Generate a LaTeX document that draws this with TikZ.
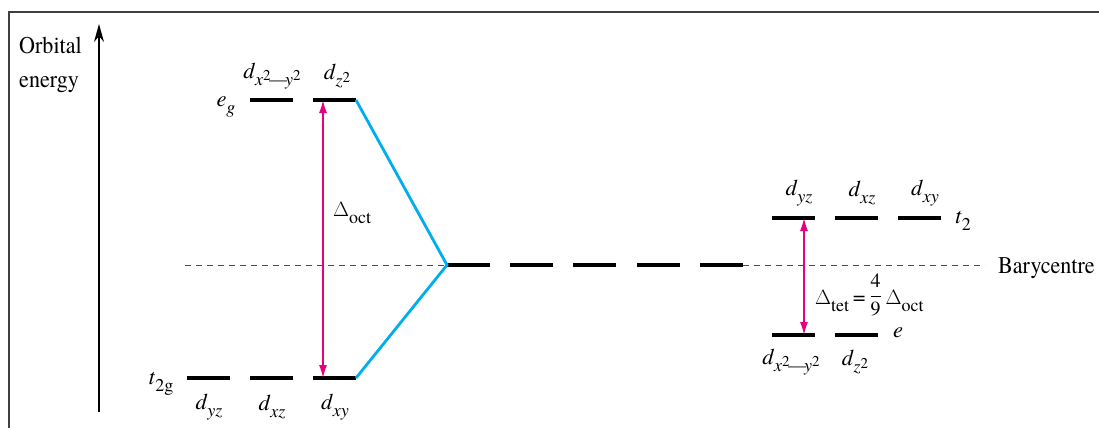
\documentclass[tikz,border=0pt]{standalone}
\usepackage{fontspec}
\setmainfont{texgyretermes}[Extension=.otf, UprightFont=*-regular, ItalicFont=*-italic, BoldFont=*-bold, BoldItalicFont=*-bolditalic]
\newfontfamily\narrowfont{texgyretermes}[Extension=.otf, UprightFont=*-regular, FakeStretch=0.92]
\usetikzlibrary{arrows.meta}
% orbital labels: italic d with a lowered italic subscript
\newcommand{\subsz}{\fontsize{18}{18}\selectfont}
\newcommand{\orb}[1]{\textit{d}\raisebox{-0.75ex}{\subsz\textit{#1}}}
\newcommand{\supx}{\raisebox{0.55ex}{\fontsize{15}{15}\selectfont 2}}
\newcommand{\orbxy}{\textit{d}\raisebox{-0.7ex}{\subsz\textit{x}\supx\kern-1.5pt\textemdash\kern-2pt\textit{y}\supx}}
\newcommand{\orbz}{\textit{d}\raisebox{-0.7ex}{\subsz\textit{z}\supx}}
\newcommand{\gsub}[2]{#1\raisebox{-0.7ex}{\subsz #2}}
\newcommand{\fourninths}{\raisebox{0.3ex}{\fontsize{20}{20}\selectfont$\displaystyle\frac{\mbox{4}}{\mbox{9}}$}}
\definecolor{splitpink}{HTML}{E6007E}
\definecolor{corrblue}{HTML}{00AEEF}
\begin{document}
\begin{tikzpicture}[x=1pt,y=-1pt,
  txt/.style={font=\fontsize{22.5}{26}\selectfont, inner sep=0pt},
  bigtxt/.style={font=\narrowfont\fontsize{24}{34}\selectfont, inner sep=0pt},
  level/.style={line width=4.5pt},
  corr/.style={corrblue, line width=2.8pt},
  gap/.style={splitpink, line width=1.4pt, {Latex[length=13pt,width=8pt]}-{Latex[length=13pt,width=8pt]}},
  bary/.style={black!70, line width=1pt, dash pattern=on 6pt off 5pt},
  frame/.style={black!75, line width=1.4pt}]
\useasboundingbox (0,0) rectangle (1099,428);

% frame
\draw[frame] (9,428) -- (9,12) -- (1099,12);

% energy axis
\coordinate (axb) at (99,412);
\coordinate (axt) at (99,24);
\draw[line width=1.3pt, -{Stealth[length=18pt,width=10pt]}] (axb) -- (axt);
\node[bigtxt, anchor=base west] (axlbl1) at (19,53) {Orbital};
\node[bigtxt, anchor=base west] (axlbl2) at (19,87) {energy};

% degenerate levels of the free ion
\foreach \i/\x in {1/447,2/510,3/573,4/637,5/700}{
  \coordinate (f\i w) at (\x,265);
  \coordinate (f\i e) at (\x+43,265);
  \draw[level] (f\i w) -- (f\i e);
}

% barycentre, dashed on either side of the free-ion levels
\coordinate (bl) at (185,265);
\coordinate (br) at (985,265);
\draw[bary] (bl) -- (f1w);
\draw[bary] (f5e) -- (br);
\node[bigtxt, anchor=base west] (barylbl) at (998,273) {Barycentre};

% octahedral field: e_g
\coordinate (eg1w) at (250,100); \coordinate (eg1e) at (293,100);
\coordinate (eg2w) at (313,100); \coordinate (eg2e) at (356,100);
\draw[level] (eg1w) -- (eg1e);
\draw[level] (eg2w) -- (eg2e);
\node[txt] (eglbl) at (226,107) {\gsub{\textit{e}}{\textit{g}}};
\node[txt] (egA) at (272,76) {\orbxy};
\node[txt] (egB) at (337,76) {\orbz};

% octahedral field: t_2g
\coordinate (t1w) at (187,378); \coordinate (t1e) at (230,378);
\coordinate (t2w) at (250,378); \coordinate (t2e) at (293,378);
\coordinate (t3w) at (313,378); \coordinate (t3e) at (356,378);
\draw[level] (t1w) -- (t1e);
\draw[level] (t2w) -- (t2e);
\draw[level] (t3w) -- (t3e);
\node[txt] (t2glbl) at (161,384) {\gsub{\textit{t}}{2g}};
\node[txt] (tA) at (209,407) {\orb{yz}};
\node[txt] (tB) at (272,407) {\orb{xz}};
\node[txt] (tC) at (335,407) {\orb{xy}};

% correlation lines to the barycentre
\draw[corr] (eg2e) -- (f1w) -- (t3e);

% octahedral splitting
\coordinate (oct1) at (323,100);
\coordinate (oct2) at (323,378);
\draw[gap] (oct1) -- (oct2);
\node[txt, anchor=west] (octlbl) at (333,213) {\gsub{$\Delta$}{oct}};

% tetrahedral field: t_2
\coordinate (u1w) at (772,218); \coordinate (u1e) at (815,218);
\coordinate (u2w) at (835,218); \coordinate (u2e) at (878,218);
\coordinate (u3w) at (898,218); \coordinate (u3e) at (941,218);
\draw[level] (u1w) -- (u1e);
\draw[level] (u2w) -- (u2e);
\draw[level] (u3w) -- (u3e);
\node[txt] (t2lbl) at (963,221) {\gsub{\textit{t}}{2}};
\node[txt] (uA) at (799,193) {\orb{yz}};
\node[txt] (uB) at (862,193) {\orb{xz}};
\node[txt] (uC) at (925,193) {\orb{xy}};

% tetrahedral field: e
\coordinate (e1w) at (772,335); \coordinate (e1e) at (815,335);
\coordinate (e2w) at (835,335); \coordinate (e2e) at (878,335);
\draw[level] (e1w) -- (e1e);
\draw[level] (e2w) -- (e2e);
\node[txt] (elbl) at (898,333) {\textit{e}};
\node[txt] (eA) at (791,362) {\orbxy};
\node[txt] (eB) at (855,362) {\orbz};

% tetrahedral splitting
\coordinate (tet1) at (804,218);
\coordinate (tet2) at (804,335);
\draw[gap] (tet1) -- (tet2);
\node[txt, anchor=west] (tetlbl) at (815,295)
  {\gsub{$\Delta$}{tet}\,=\,\fourninths\,\gsub{$\Delta$}{oct}};
\end{tikzpicture}
\end{document}
